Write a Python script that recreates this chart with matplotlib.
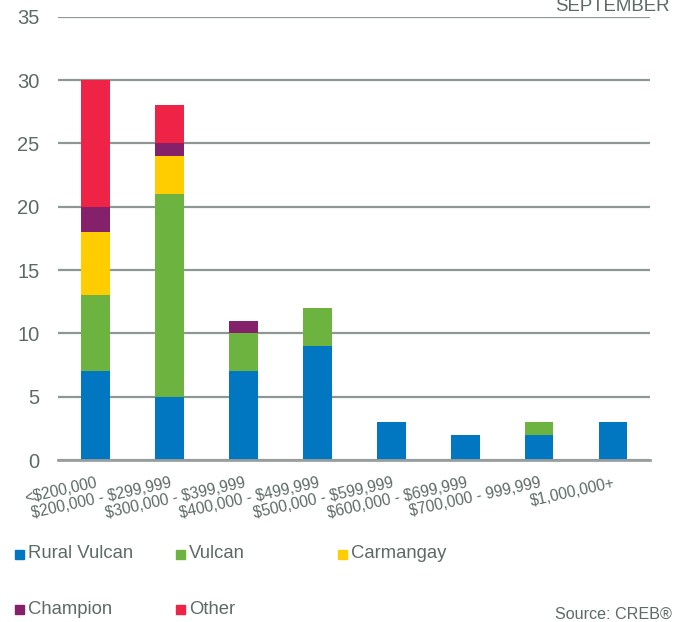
import matplotlib
matplotlib.use("Agg")
import matplotlib.pyplot as plt
from matplotlib.patches import Rectangle
import numpy as np

plt.rcParams['font.family'] = ['Liberation Sans', 'DejaVu Sans']

categories = ["<$200,000", "$200,000 - $299,999", "$300,000 - $399,999",
              "$400,000 - $499,999", "$500,000 - $599,999", "$600,000 - $699,999",
              "$700,000 - 999,999", "$1,000,000+"]

rural_vulcan = [7, 5, 7, 9, 3, 2, 2, 3]
vulcan = [6, 16, 3, 3, 0, 0, 1, 0]
carmangay = [5, 3, 0, 0, 0, 0, 0, 0]
champion = [2, 1, 1, 0, 0, 0, 0, 0]
other = [10, 3, 0, 0, 0, 0, 0, 0]

series_names = ["Rural Vulcan", "Vulcan", "Carmangay", "Champion", "Other"]
series_values = [rural_vulcan, vulcan, carmangay, champion, other]
colors = ["#0077C0", "#6DB33F", "#FFCD00", "#85216B", "#EE2346"]

yticks = [0, 5, 10, 15, 20, 25, 30, 35]

text_color = "#5D6A66"
grid_color = "#8E9893"

W, H = 684, 622
fig = plt.figure(figsize=(W / 100, H / 100), dpi=100)
ax = fig.add_axes([58.3 / W, 1 - 460 / H, (650 - 58.3) / W, (460 - 16.7) / H])

x = np.arange(len(categories))
bottom = np.zeros(len(categories))
for name, vals, col in zip(series_names, series_values, colors):
    vals = np.array(vals, dtype=float)
    ax.bar(x, vals, width=0.39, bottom=bottom, color=col, zorder=3, linewidth=0)
    bottom += vals

ax.set_xlim(-0.5, len(categories) - 0.5)
ax.set_ylim(0, 35)
ax.set_yticks(yticks)
ax.set_yticklabels([str(t) for t in yticks], fontsize=14.5, color=text_color)
ax.yaxis.grid(True, color=grid_color, linewidth=1.6, zorder=0)
ax.tick_params(axis='y', length=0, pad=13.5)
ax.tick_params(axis='x', length=0, pad=11)

ax.set_xticks(x)
ax.set_xticklabels([c.replace("$", r"\$") for c in categories], fontsize=11.2,
                   color=text_color, rotation=12.5,
                   ha='right', va='top', rotation_mode='anchor')

for s in ["top", "right", "left"]:
    ax.spines[s].set_visible(False)
ax.spines["bottom"].set_color("#9A9E9C")
ax.spines["bottom"].set_linewidth(2)
ax.spines["bottom"].set_zorder(4)

# legend drawn as colored squares with labels in a fixed grid
legend_pos = [(15, 554), (176, 554), (338, 554), (15, 609), (176, 609)]
for (lx, ly), name, col in zip(legend_pos, series_names, colors):
    fig.patches.append(Rectangle((lx / W, 1 - (ly + 4.5) / H), 9 / W, 9 / H,
                                 transform=fig.transFigure, color=col))
    fig.text((lx + 13) / W, 1 - ly / H, name, fontsize=13.3, color=text_color,
             ha='left', va='center')

fig.text(670 / W, 1 - 11 / H, "SEPTEMBER", fontsize=13.4, color=text_color,
         ha='right', va='baseline')
fig.text(672 / W, 1 - 619 / H, "Source: CREB®", fontsize=11.6, color=text_color,
         ha='right', va='baseline')

fig.savefig("out.png", dpi=100)
